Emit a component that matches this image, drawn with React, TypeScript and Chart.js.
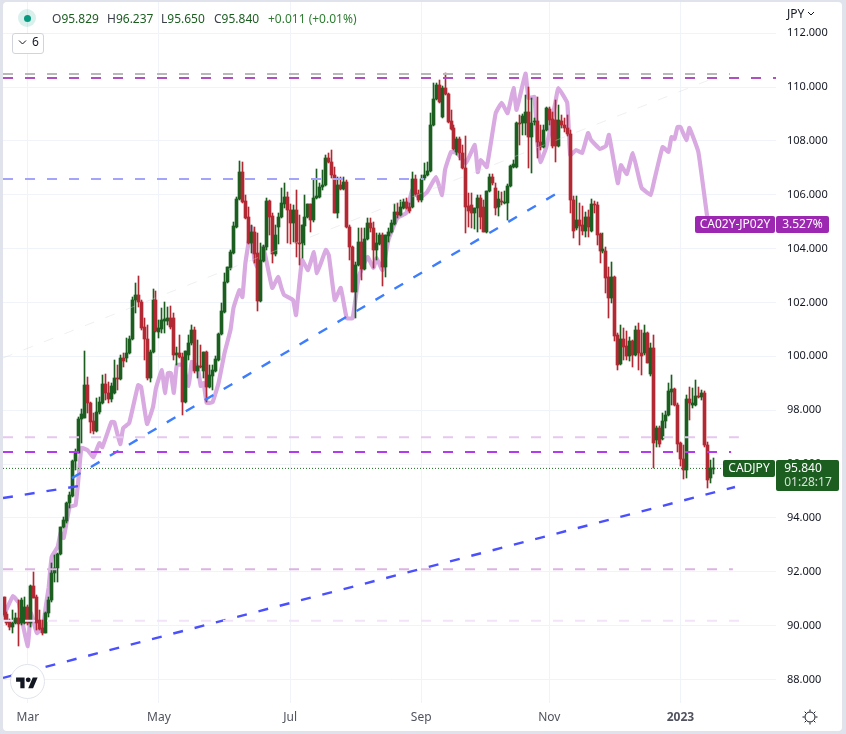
import React, { useEffect, useRef } from "react";
import { Chart, registerables } from "chart.js";

Chart.register(...registerables);

const FONT = '"Noto Sans", sans-serif';
const UP = "#1b5e20";
const DOWN = "#b22833";

const opens = [
  91.06,90.43,90.17,89.95,90.10,90.28,90.10,90.10,90.69,90.10,
  91.47,91.06,90.21,89.91,89.73,90.47,90.95,91.95,92.14,92.66,
  93.66,93.89,94.55,94.81,96.11,96.41,97.67,97.71,98.93,98.27,
  97.60,97.23,97.93,98.27,98.97,98.64,98.42,98.64,99.20,99.16,
  99.94,99.94,100.12,100.64,102.09,102.28,102.02,101.09,100.64,99.20,
  100.16,102.09,100.90,101.02,101.31,101.31,101.42,101.42,100.05,100.12,
  99.97,98.30,100.05,100.49,100.98,99.45,99.64,99.45,100.16,98.86,
  99.27,99.45,99.86,100.83,101.65,102.76,103.28,103.84,104.80,105.84,
  106.84,105.77,105.18,104.21,104.62,103.84,102.05,103.54,104.06,105.77,
  105.21,103.80,104.80,105.17,105.66,105.92,105.43,104.95,105.43,104.21,
  104.21,104.84,105.17,105.66,105.06,105.88,105.92,106.29,106.36,107.36,
  107.21,106.73,105.32,106.36,106.21,106.47,104.80,104.06,102.39,103.39,
  104.24,103.24,104.36,104.95,104.76,103.95,104.17,104.50,103.32,104.47,
  104.62,104.91,105.36,105.25,105.51,105.73,105.54,105.54,106.58,106.03,
  105.80,106.62,106.73,106.88,108.59,109.55,110.07,108.89,109.96,109.74,
  108.74,108.48,107.59,108.07,107.55,106.99,105.58,105.62,105.32,105.51,
  105.88,105.54,104.62,106.14,106.66,106.25,105.54,105.77,105.69,105.69,
  106.32,107.03,107.03,108.66,108.66,108.66,109.07,108.14,108.70,108.74,
  107.96,107.77,108.40,109.18,108.81,108.77,107.81,108.74,108.59,108.48,
  108.25,105.80,104.77,105.06,104.88,104.65,105.17,104.65,105.66,105.62,
  104.54,103.91,103.91,102.95,102.16,102.95,100.79,99.71,100.64,100.38,
  100.01,100.57,100.05,100.98,100.12,100.12,100.87,99.34,100.31,96.89,
  97.34,96.93,97.60,97.82,98.67,98.79,98.19,96.78,96.19,95.78,
  98.41,98.19,98.19,98.53,98.49,98.64,96.71,95.48,95.829,
];
const highs = [
  91.06,90.51,90.25,90.58,90.47,90.95,91.03,91.06,90.77,91.51,
  91.99,91.14,90.58,90.21,90.51,91.06,92.33,92.62,92.70,93.66,
  94.03,94.59,94.96,96.15,96.56,97.75,98.04,100.20,99.23,98.30,
  97.90,98.45,98.49,99.31,99.34,99.05,99.01,99.86,99.68,100.04,
  100.12,100.68,100.75,102.20,102.72,102.98,102.09,101.42,101.16,100.23,
  102.50,102.43,101.35,101.79,102.02,101.83,101.87,101.61,100.35,100.79,
  100.12,100.20,100.79,101.16,101.09,100.60,100.42,100.16,100.20,99.68,
  99.68,100.01,100.86,101.98,103.09,103.32,103.95,104.99,105.92,107.25,
  107.21,105.99,105.54,104.88,104.80,104.58,104.21,104.13,105.88,105.80,
  105.32,104.88,105.32,106.25,106.44,106.10,105.66,105.62,106.18,105.25,
  104.88,105.99,105.66,105.66,106.55,106.95,106.44,106.92,107.48,107.55,
  107.66,107.03,106.66,106.66,106.66,106.55,104.88,104.10,103.50,104.76,
  104.76,104.76,105.14,105.14,104.99,104.58,104.58,104.58,104.50,104.76,
  105.06,105.66,105.69,105.80,105.84,105.88,105.69,106.84,106.73,106.18,
  106.73,107.18,107.21,109.03,110.15,110.15,110.26,110.04,110.52,109.78,
  109.15,108.59,108.14,108.14,107.85,108.18,106.06,106.06,105.51,105.99,
  105.99,105.80,106.14,106.77,106.77,106.44,106.14,106.10,106.14,106.40,
  107.10,107.29,108.70,108.96,109.00,109.70,110.00,109.59,108.85,109.63,
  108.59,108.59,109.26,109.26,109.07,109.52,109.33,108.96,108.85,108.96,
  108.40,105.95,105.95,105.69,105.58,105.36,105.43,105.84,105.77,105.73,
  104.58,104.58,104.06,103.32,103.50,102.98,100.87,101.16,101.05,100.94,
  100.72,100.61,101.13,101.24,100.98,101.16,100.90,100.49,100.79,97.41,
  97.41,97.90,97.97,99.01,99.31,98.82,98.27,96.82,96.71,98.56,
  98.86,98.82,99.12,98.86,98.75,98.71,96.82,96.15,96.237,
];
const lows = [
  90.21,90.02,89.84,89.73,90.08,89.24,90.02,90.06,90.02,89.95,
  91.03,89.84,89.84,89.65,89.73,90.32,90.88,91.62,91.62,92.62,
  93.62,93.81,94.37,94.78,95.78,96.41,96.78,97.71,97.90,97.15,
  97.11,97.19,97.86,98.23,98.38,98.27,98.30,98.60,98.75,99.12,
  99.60,99.79,100.09,100.60,101.61,101.83,100.98,99.86,99.12,99.05,
  100.12,100.90,100.68,100.87,100.87,101.16,101.01,99.86,99.68,99.94,
  97.82,98.27,99.86,100.42,99.38,99.20,99.57,99.20,98.30,98.82,
  98.75,99.42,99.83,100.79,101.61,102.72,103.20,103.80,104.77,105.80,
  105.69,105.10,104.17,103.84,103.47,101.68,102.02,103.50,103.95,104.50,
  103.47,103.72,104.17,105.14,105.51,104.21,104.17,104.24,103.69,103.39,
  103.65,104.13,105.14,104.62,104.99,105.84,105.88,106.18,106.32,107.18,
  106.62,105.32,105.14,106.18,106.18,104.76,103.58,102.39,101.42,103.35,
  102.83,103.20,104.32,104.62,103.28,103.58,104.13,102.61,102.95,104.24,
  104.58,104.88,105.14,105.21,105.47,105.47,105.32,105.51,105.95,105.73,
  105.73,106.55,106.70,106.84,108.55,109.52,109.40,108.85,109.70,108.66,
  108.40,107.66,107.48,107.29,106.96,104.58,104.80,104.77,104.73,104.62,
  104.73,104.62,104.58,106.10,106.36,105.25,105.21,105.62,105.66,105.06,
  106.29,106.99,106.99,107.85,108.22,108.22,106.99,106.81,108.59,107.36,
  107.66,107.73,108.37,108.59,107.73,107.21,107.77,108.48,108.33,108.18,
  105.32,104.39,104.69,104.13,104.50,104.43,104.43,104.62,105.32,104.13,
  103.47,103.84,102.35,101.42,101.98,100.57,99.49,99.67,99.86,99.86,
  99.83,99.60,100.01,99.49,99.31,100.05,99.75,99.27,95.85,96.63,
  96.63,96.89,97.34,97.79,98.19,98.15,96.45,95.93,95.45,95.48,
  97.64,98.08,98.15,98.45,98.38,96.63,95.11,95.30,95.65,
];
const closes = [
  90.40,90.10,89.95,90.10,90.28,90.06,90.95,90.69,90.10,91.47,
  91.03,90.10,89.87,89.73,90.47,90.95,91.95,92.14,92.66,93.66,
  93.92,94.55,94.85,96.11,96.41,97.67,97.86,98.93,98.27,97.56,
  97.23,97.93,98.30,98.97,98.64,98.42,98.90,99.20,99.16,99.94,
  99.83,100.12,100.64,102.09,102.28,102.02,101.05,100.64,99.20,100.16,
  102.09,100.94,101.05,101.35,101.39,101.42,101.09,100.05,100.12,99.97,
  98.30,100.20,100.49,100.98,99.45,99.64,99.60,100.16,98.86,99.31,
  99.49,99.90,100.83,101.68,102.76,103.32,103.87,104.84,105.84,106.84,
  105.73,105.14,104.21,104.62,103.80,102.05,103.58,104.06,105.77,105.17,
  103.80,104.50,105.17,105.69,105.92,105.43,104.95,105.43,104.21,104.17,
  104.88,105.17,105.66,105.06,105.88,105.95,106.29,106.36,107.36,107.21,
  106.73,105.32,106.36,106.21,106.47,104.80,104.06,102.39,103.39,104.24,
  103.24,104.36,104.95,104.76,103.95,104.21,104.50,103.32,104.50,104.62,
  104.95,105.36,105.25,105.54,105.73,105.51,105.40,106.58,106.03,105.80,
  106.58,106.73,106.88,108.59,109.55,110.07,109.44,109.96,109.74,108.70,
  108.44,107.70,108.07,107.55,106.99,105.54,105.40,105.32,105.51,105.88,
  105.17,104.62,106.14,106.66,106.44,105.51,105.84,105.73,105.73,106.32,
  107.07,107.14,108.66,108.63,108.92,109.07,108.14,108.66,108.74,107.96,
  107.77,108.40,109.22,108.77,107.81,107.81,108.77,108.59,108.48,108.25,
  105.80,104.65,105.06,104.84,104.65,105.17,104.80,105.66,105.62,104.50,
  103.91,103.98,102.91,102.16,102.95,100.75,99.67,100.64,100.35,100.01,
  100.57,100.05,100.98,100.12,100.01,100.87,99.75,100.31,96.78,97.34,
  96.74,97.60,97.82,98.71,98.79,98.19,96.74,96.19,95.78,98.41,
  98.27,98.27,98.53,98.49,98.64,96.71,95.41,95.85,95.84,
];

const spreadBars = [
  0,3,5,6,8,9,11,13,14,15,16,18,19,20,22,24,25,26,28,30,32,33,36,37,39,40,42,45,46,48,
  50,51,53,54,55,56,57,58,60,62,63,65,66,67,68,70,72,74,76,77,79,80,81,83,84,85,87,90,92,93,
  94,97,98,100,102,104,105,108,109,111,113,115,117,119,122,124,125,127,129,132,135,137,139,140,142,145,147,148,150,152,
  155,158,159,160,162,165,167,169,171,172,175,176,178,179,180,182,185,186,189,190,192,194,196,197,200,202,203,206,207,209,
  211,213,214,217,218,221,223,224,225,226,227,229,230,233,236,237,
];
const spreadOnPriceScale = [
  90.40,91.10,90.84,90.21,89.24,90.47,89.73,89.95,90.69,91.43,92.55,92.92,93.44,93.25,94.41,94.48,95.48,96.60,96.52,96.26,96.78,96.63,97.56,97.56,96.74,97.34,97.52,98.93,98.86,97.49,
  98.12,98.82,99.49,98.64,99.38,99.38,98.64,99.68,99.68,98.90,99.79,99.60,98.90,99.01,98.27,98.30,99.01,100.12,100.98,101.79,102.46,102.20,103.46,104.80,103.58,103.32,104.06,102.54,102.95,102.57,
  102.28,102.09,101.53,103.58,103.20,103.87,103.09,103.95,103.76,102.09,102.54,101.42,101.42,102.95,103.69,103.28,103.65,103.20,104.32,105.14,105.32,106.18,105.92,105.92,106.10,106.66,105.99,106.92,107.59,107.55,
  107.18,107.85,106.84,107.29,107.03,109.03,109.41,109.03,109.96,109.15,110.50,109.59,109.63,107.92,107.21,107.77,109.41,109.96,109.41,107.48,107.66,107.55,108.29,108.03,107.70,107.81,108.22,106.43,107.10,106.77,
  107.55,106.66,106.25,105.99,106.43,107.77,107.59,108.14,108.07,108.51,108.51,108.03,108.48,107.59,105.17,104.88,
];

const tickBars = [8, 52, 96, 140, 183, 227];
const tickLabels = ["Mar", "May", "Jul", "Sep", "Nov", "2023"];

const xStart = -0.336;
const xEnd = 259.06;

const levelPrices = [110.48, 110.33, 106.58, 97.0, 96.45, 92.1, 90.18];
const levelEndBars = [243.6, xEnd, 141, 246.6, 244, 244.6, 247];
const levelColors = ["#b8b8b8", "#b050c0", "#a4a4fa", "#e6c8ee", "#b43af0", "#dcb4e2", "#f3e3f8"];

const lastClose = 95.84;

const trendBarsA = [xStart, 245.3];
const trendPricesA = [88.06, 95.15];
const trendBarsB = [xStart, 24.8];
const trendPricesB = [94.74, 95.18];
const trendBarsC = [22.8, 185.2];
const trendPricesC = [95.48, 106.03];
const trendBarsD = [xStart, 236.6];
const trendPricesD = [99.94, 110.26];

const headerParts: [string, string, number][] = [
  ["O", "95.829", 52],
  ["H", "96.237", 107],
  ["L", "95.650", 161],
  ["C", "95.840", 214],
];

const toPoints = (xs: number[], ys: number[]) => xs.map((x, i) => ({ x, y: ys[i] }));

const snapPlugin = {
  id: "snapCandles",
  afterDatasetsUpdate(chart: any) {
    chart.data.datasets.forEach((ds: any, di: number) => {
      if (!ds.snap) return;
      chart.getDatasetMeta(di).data.forEach((el: any) => {
        el.x = Math.floor(el.x) + 0.5;
        const top = Math.round(Math.min(el.y, el.base));
        const bottom = Math.max(Math.round(Math.max(el.y, el.base)), top + 1);
        el.y = top;
        el.base = bottom;
      });
    });
  },
};

const tagPlugin = {
  id: "priceTags",
  afterDraw(chart: any) {
    const c = chart.ctx;
    const y = chart.scales.y;
    c.save();
    c.textBaseline = "middle";
    const spreadY = Math.round(y.getPixelForValue(spreadOnPriceScale[spreadOnPriceScale.length - 1]));
    const closeY = Math.round(y.getPixelForValue(lastClose));
    const box = (x: number, yy: number, w: number, h: number, col: string) => {
      c.fillStyle = col;
      c.beginPath();
      c.roundRect(x, yy, w, h, 2);
      c.fill();
    };
    box(695, spreadY - 9, 80, 17, "#9c27b0");
    box(776, spreadY - 9, 53, 17, "#9c27b0");
    c.font = `12px ${FONT}`;
    c.fillStyle = "#ffffff";
    c.textAlign = "center";
    c.fillText("CA02Y-JP02Y", 735, spreadY);
    c.fillText("3.527%", 802.5, spreadY);

    box(723, closeY - 8, 52, 17, UP);
    box(776, closeY - 8, 63, 31, UP);
    c.fillStyle = "#ffffff";
    c.fillText("CADJPY", 749, closeY + 1);
    c.fillText("95.840", 803, closeY + 1);
    c.fillStyle = "rgba(255,255,255,0.82)";
    c.fillText("01:28:17", 808, closeY + 15);
    c.restore();
  },
};

export default function App() {
  const ref = useRef<HTMLCanvasElement>(null);
  useEffect(() => {
    document.body.style.margin = "0";
    const barIdx = opens.map((_, i) => i);
    const colors = barIdx.map((i) => (closes[i] >= opens[i] ? UP : DOWN));
    const dash = [10, 12];
    const levelSets = levelPrices.map((p, i) => ({
      type: "line",
      data: [
        { x: xStart, y: p },
        { x: levelEndBars[i], y: p },
      ],
      borderColor: levelColors[i],
      borderWidth: 2,
      borderDash: dash,
      pointRadius: 0,
      order: 1,
    }));
    const trend = (xs: number[], ys: number[], col: string, w = 2.4) => ({
      type: "line",
      data: toPoints(xs, ys),
      borderColor: col,
      borderWidth: w,
      borderDash: dash,
      pointRadius: 0,
      order: 1,
    });
    const chart = new Chart(ref.current as HTMLCanvasElement, {
      type: "bar",
      data: {
        datasets: [
          ...levelSets,
          {
            type: "line",
            data: [
              { x: xStart, y: lastClose },
              { x: 241, y: lastClose },
            ],
            borderColor: "#1b6e20",
            borderWidth: 1,
            borderDash: [1, 2],
            pointRadius: 0,
            order: 1,
          },
          trend(trendBarsA, trendPricesA, "#4a50ff"),
          trend(trendBarsB, trendPricesB, "#4a50ff"),
          trend(trendBarsC, trendPricesC, "#3d7dff"),
          trend(trendBarsD, trendPricesD, "rgba(215,215,220,0.4)", 1),
          {
            type: "bar",
            data: barIdx.map((i) => ({ x: i, y: [opens[i], closes[i]] })),
            backgroundColor: colors,
            barThickness: 3,
            minBarLength: 1,
            grouped: false,
            snap: true,
            order: 2,
          },
          {
            type: "bar",
            data: barIdx.map((i) => ({ x: i, y: [lows[i], highs[i]] })),
            backgroundColor: colors,
            barThickness: 1,
            grouped: false,
            snap: true,
            order: 3,
          },
          {
            type: "line",
            data: toPoints(spreadBars, spreadOnPriceScale),
            borderColor: "#d9a9e1",
            borderWidth: 4.2,
            borderJoinStyle: "round",
            borderCapStyle: "round",
            pointRadius: 0,
            tension: 0.1,
            order: 4,
          },
        ] as any,
      },
      options: {
        responsive: false,
        animation: false,
        layout: { padding: { left: 3, top: 2, right: 4, bottom: 3 } },
        plugins: { legend: { display: false }, tooltip: { enabled: false }, title: { display: false } },
        events: [],
        scales: {
          x: {
            type: "linear",
            offset: false,
            min: xStart,
            max: xEnd,
            afterFit(s: any) {
              s.height = 28;
              s.paddingLeft = 0;
              s.paddingRight = 0;
            },
            afterBuildTicks(s: any) {
              s.ticks = tickBars.map((value) => ({ value }));
            },
            grid: { color: "#f0f3fa", offset: false, drawTicks: false },
            border: { display: false },
            ticks: {
              autoSkip: false,
              maxRotation: 0,
              padding: 7,
              color: "#50535e",
              callback: (v: any) => tickLabels[tickBars.indexOf(v)],
              font: (ctx: any) => ({
                family: FONT,
                size: 12,
                weight: tickBars.indexOf(ctx.tick?.value) === 5 ? "bold" : "normal",
              }),
            },
          },
          y: {
            type: "linear",
            position: "right",
            min: 87.13,
            max: 113.156,
            afterFit(s: any) {
              s.width = 66;
              s.paddingTop = 0;
              s.paddingBottom = 0;
            },
            grid: { color: "#f0f3fa", drawTicks: false },
            border: { display: false },
            ticks: {
              stepSize: 2,
              includeBounds: false,
              padding: 11,
              color: "#131722",
              font: { family: FONT, size: 11 },
              callback: (v: any) => Number(v).toFixed(3),
            },
          },
        },
      } as any,
      plugins: [snapPlugin, tagPlugin] as any,
    });
    return () => chart.destroy();
  }, []);

  const abs = (o: React.CSSProperties): React.CSSProperties => ({ position: "absolute", whiteSpace: "nowrap", ...o });
  const txt: React.CSSProperties = { fontFamily: FONT, fontSize: 12, lineHeight: "16px" };

  return (
    <div style={{ position: "absolute", left: 0, top: 0, width: 846, height: 734, background: "#e0e3eb", overflow: "hidden" }}>
      <div style={abs({ left: 3, top: 2, width: 839, height: 729, background: "#fff", borderRadius: 4 })} />
      <canvas ref={ref} width={846} height={734} style={{ position: "absolute", left: 0, top: 0, width: 846, height: 734, display: "block" }} />

      <div style={abs({ left: 18, top: 9, width: 18, height: 18, borderRadius: 9, background: "rgba(8,153,129,0.15)" })} />
      <div style={abs({ left: 23.5, top: 14.5, width: 7, height: 7, borderRadius: 4, background: "#089981" })} />
      {headerParts.map(([k, v, x]) => (
        <div key={k} style={abs({ ...txt, left: x, top: 11, color: UP })}>
          <span style={{ color: "#3b3f4a" }}>{k}</span>
          {v}
        </div>
      ))}
      <div style={abs({ ...txt, left: 268, top: 11, color: "#2e7d32" })}>+0.011 (+0.01%)</div>

      <div style={abs({ left: 12, top: 33, width: 30, height: 19, border: "1px solid #d1d4dc", borderRadius: 3, background: "#fff" })} />
      <svg style={abs({ left: 18, top: 39 })} width={9} height={7} viewBox="0 0 9 7">
        <path d="M1 1.5 L4.5 5 L8 1.5" fill="none" stroke="#131722" strokeWidth={1} />
      </svg>
      <div style={abs({ ...txt, left: 32, top: 34, color: "#131722" })}>6</div>

      <div style={abs({ ...txt, left: 787, top: 6, color: "#131722" })}>JPY</div>
      <svg style={abs({ left: 807, top: 11 })} width={8} height={6} viewBox="0 0 8 6">
        <path d="M1 1 L4 4 L7 1" fill="none" stroke="#131722" strokeWidth={1} />
      </svg>

      <div style={abs({ left: 10, top: 664, width: 33, height: 33, borderRadius: 18, background: "#fff", border: "1px solid #e0e3eb" })} />
      <svg style={abs({ left: 16, top: 675 })} width={22} height={17} viewBox="0 0 36 28">
        <path d="M14 22H7V11H0V4h14v18zM28 22h-8l7.5-18h8L28 22z" fill="#131722" />
        <circle cx={20} cy={8} r={4} fill="#131722" />
      </svg>

      <svg style={abs({ left: 802, top: 709 })} width={16} height={16} viewBox="0 0 16 16">
        <circle cx={8} cy={8} r={5} fill="none" stroke="#131722" strokeWidth={1} />
        <path d="M8 0.5V2.5M8 13.5V15.5M0.5 8H2.5M13.5 8H15.5M2.7 2.7L4 4M12 12L13.3 13.3M2.7 13.3L4 12M12 4L13.3 2.7" stroke="#131722" strokeWidth={1} />
      </svg>
    </div>
  );
}
